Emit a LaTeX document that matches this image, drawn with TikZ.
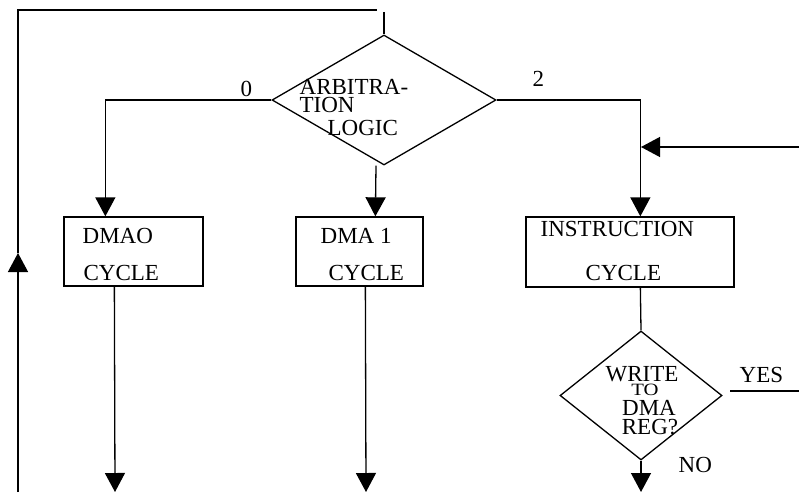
\documentclass[tikz,border=0pt]{standalone}
\usepackage{fontspec}
\setmainfont{Liberation Serif}
\usetikzlibrary{shapes.geometric,arrows.meta}
\begin{document}
\begin{tikzpicture}[x=1pt,y=-1pt,line width=1.3pt,
  box/.style={draw,rectangle,inner sep=0pt},
  dec/.style={draw,diamond,inner sep=0pt},
  txt/.style={inner sep=0pt,font=\fontsize{23}{23}\selectfont},
  arr/.style={-{Triangle[length=19pt,width=20pt]}}]
\useasboundingbox (0,0) rectangle (799,492);

% shapes
\node[dec,minimum width=224pt,minimum height=130pt] (arb) at (384,100) {};
\node[box,minimum width=139pt,minimum height=69pt] (dma0) at (133.5,251.5) {};
\node[box,minimum width=127pt,minimum height=69pt] (dma1) at (359.5,251.5) {};
\node[box,minimum width=208pt,minimum height=70pt] (instr) at (630,252) {};
\node[dec,minimum width=162pt,minimum height=129pt] (wr) at (641,395.5) {};

% texts
\node[txt,anchor=base west] (t1) at (299,95) {ARBITRA-};
\node[txt,anchor=base west] (t2) at (299,113) {TION};
\node[txt,anchor=base west] (t3) at (327,135) {LOGIC};
\node[txt,anchor=base west] (t4) at (82,243) {DMAO};
\node[txt,anchor=base west] (t5) at (83,280) {CYCLE};
\node[txt,anchor=base west] (t6) at (320,243) {DMA 1};
\node[txt,anchor=base west] (t7) at (328,280) {CYCLE};
\node[txt,anchor=base west] (t8) at (540,236) {INSTRUCTION};
\node[txt,anchor=base west] (t9) at (585,280) {CYCLE};
\node[txt,anchor=base] (w1) at (642,381) {WRITE};
\node[txt,anchor=base] (w2) at (645,395) {\scalebox{0.9}[0.75]{TO}};
\node[txt,anchor=base] (w3) at (649,415) {DMA};
\node[txt,anchor=base] (w4) at (650,434) {REG?};
\node[txt,anchor=base west] (l0) at (240,97) {0};
\node[txt,anchor=base west] (l2) at (532,87) {2};
\node[txt,anchor=base west] (ly) at (739,382) {YES};
\node[txt,anchor=base west] (ln) at (678,472) {NO};

% coordinates
\coordinate (tl) at (18,10);
\coordinate (tr) at (377,10);
\coordinate (ts) at (384,12);
\coordinate (bl) at (18,492);
\coordinate (lup) at (18,253);
\coordinate (rin) at (799,147);
\coordinate (join) at (641,147);
\coordinate (b0) at (115,492);
\coordinate (b1) at (366,492);
\coordinate (b2) at (641,492);
\coordinate (yesstart) at (730,391);
\coordinate (yesend) at (799,391);

% connectors
\draw[arr] (bl) -- (lup);
\draw (lup) -- (tl) -- (tr);
\draw (ts) -- (arb.north);
\draw[arr] (arb.west) -| ([xshift=42pt]dma0.north west);
\draw[arr] ([xshift=-8pt]arb.south) -- ([xshift=80pt]dma1.north west);
\draw[arr] (arb.east) -| ([xshift=115pt]instr.north west);
\draw[arr] (rin) -- (join);
\draw[arr] ([xshift=51pt]dma0.south west) -- (b0);
\draw[arr] ([xshift=70pt]dma1.south west) -- (b1);
\draw ([xshift=115pt]instr.south west) -- (wr.north);
\draw[arr] (wr.south) -- (b2);
\draw (yesstart) -- (yesend);
\end{tikzpicture}
\end{document}
